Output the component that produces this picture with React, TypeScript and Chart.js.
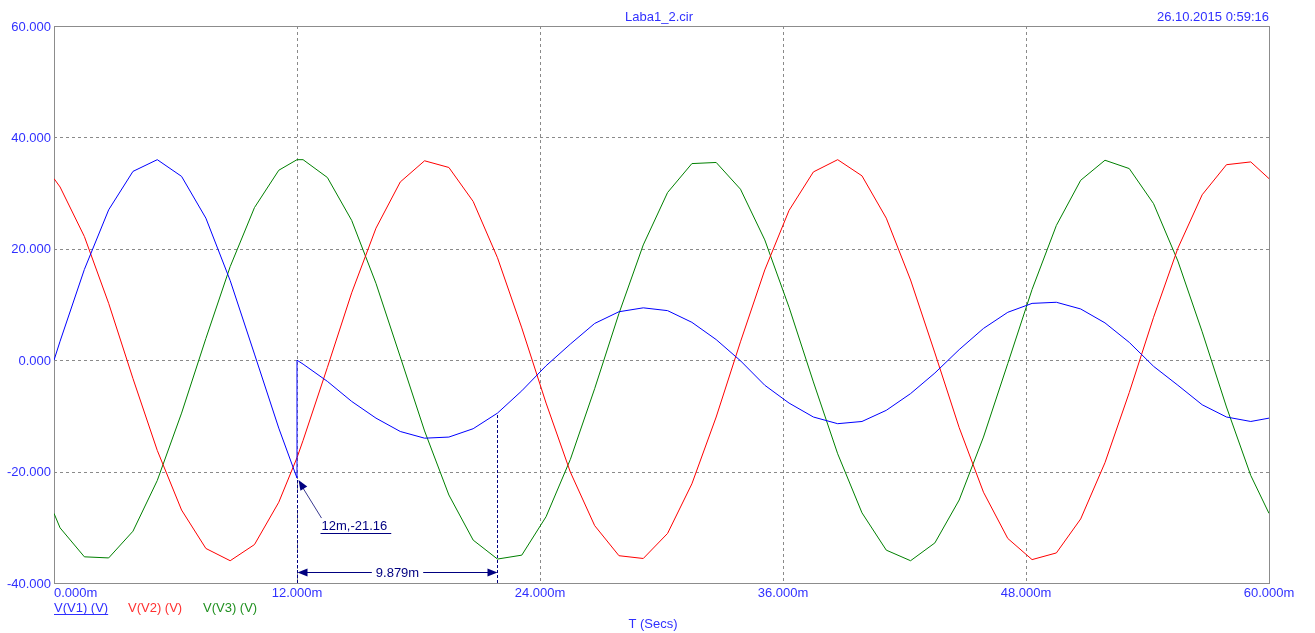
import React, { useEffect, useRef } from "react";
import { Chart, registerables } from "chart.js";

Chart.register(...registerables);

// Time axis in milliseconds (12.0 appears twice: switching instant)
const TIMES_MS = [
  0, 0.3, 1.5, 2.7, 3.9, 5.1, 6.3, 7.5, 8.7, 9.9, 11.1, 12.0, 12.0,
  12.3, 13.5, 14.7, 15.9, 17.1, 18.3, 19.5, 20.7, 21.9, 23.1, 24.3, 25.5,
  26.7, 27.9, 29.1, 30.3, 31.5, 32.7, 33.9, 35.1, 36.3, 37.5, 38.7, 39.9,
  41.1, 42.3, 43.5, 44.7, 45.9, 47.1, 48.3, 49.5, 50.7, 51.9, 53.1, 54.3,
  55.5, 56.7, 57.9, 59.1, 60.0,
];

const V1 = [
  0, 3.4, 16.3, 27.0, 33.9, 36.0, 33.0, 25.5, 14.3, 1.1, -12.2, -21.16, 0,
  -0.7, -3.8, -7.4, -10.4, -12.8, -14.0, -13.8, -12.3, -9.5, -5.5, -1.0, 2.9,
  6.6, 8.7, 9.4, 8.9, 6.8, 3.7, -0.1, -4.5, -7.7, -10.2, -11.4, -11.0,
  -9.0, -6.0, -2.3, 1.9, 5.7, 8.6, 10.2, 10.4, 9.2, 6.7, 3.2, -1.1,
  -4.5, -8.0, -10.2, -11.0, -10.4,
];

const V2 = [
  32.6, 31.1, 22.2, 10.2, -3.3, -16.2, -26.9, -33.8, -36.0, -33.1, -25.5, -17.5, -17.5,
  -14.4, -1.3, 12.1, 23.7, 32.0, 35.8, 34.6, 28.5, 18.4, 5.8, -7.7, -20.1,
  -29.7, -35.1, -35.6, -31.1, -22.2, -10.2, 3.3, 16.2, 26.9, 33.8, 36.0, 33.1,
  25.5, 14.4, 1.3, -12.1, -23.7, -32.0, -35.8, -34.6, -28.5, -18.4, -5.8, 7.7,
  20.1, 29.7, 35.1, 35.6, 32.6,
];

const V3 = [
  -27.5, -30.1, -35.3, -35.5, -30.7, -21.6, -9.5, 3.9, 16.8, 27.4, 34.1, 36.0, 36.0,
  36.0, 32.8, 25.1, 13.8, 0.6, -12.7, -24.2, -32.3, -35.7, -35.0, -28.1, -17.8,
  -5.1, 8.4, 20.7, 30.1, 35.3, 35.5, 30.7, 21.6, 9.5, -3.9, -16.8, -27.4,
  -34.1, -36.0, -32.8, -25.1, -13.8, -0.6, 12.7, 24.2, 32.3, 35.9, 34.4, 28.1,
  17.8, 5.1, -8.4, -20.7, -27.5,
];

const SERIES_NAMES = ["V(V1) (V)", "V(V2) (V)", "V(V3) (V)"];
const SERIES_COLORS = ["#0000ff", "#ff0000", "#008000"];

const X_TICKS = [0, 12, 24, 36, 48, 60];
const Y_TICKS = [60, 40, 20, 0, -20, -40];

const TITLE = "Laba1_2.cir";
const DATE_TEXT = "26.10.2015 0:59:16";
const X_TITLE = "T (Secs)";

const CURSOR_A = 12;
const CURSOR_A_VALUE = -21.16;
const CURSOR_B = 21.879;
const CURSOR_LABEL = "12m,-21.16";
const DELTA_LABEL = "9.879m";
const DELTA_LINE_Y = -38.1;

const TEXT_BLUE = "#3030ff";
const NAVY = "#000080";
const FONT = "Liberation Sans, Arial, sans-serif";

function toPoints(values: number[]) {
  return values.map((v, i) => ({ x: TIMES_MS[i], y: v }));
}

function interpBlue(t: number) {
  for (let i = 0; i < TIMES_MS.length - 1; i++) {
    const a = TIMES_MS[i];
    const b = TIMES_MS[i + 1];
    if (t >= a && t <= b && b > a) {
      return V1[i] + ((V1[i + 1] - V1[i]) * (t - a)) / (b - a);
    }
  }
  return 0;
}

function arrowHead(ctx: CanvasRenderingContext2D, tipX: number, tipY: number, angle: number, len: number, half: number) {
  ctx.save();
  ctx.translate(tipX, tipY);
  ctx.rotate(angle);
  ctx.beginPath();
  ctx.moveTo(0, 0);
  ctx.lineTo(-len, -half);
  ctx.lineTo(-len, half);
  ctx.closePath();
  ctx.fill();
  ctx.restore();
}

const decorPlugin = {
  id: "decor",
  beforeDraw(chart: any) {
    const ctx = chart.ctx;
    ctx.save();
    ctx.fillStyle = "#ffffff";
    ctx.fillRect(0, 0, chart.width, chart.height);
    ctx.restore();
  },
  beforeDatasetsDraw(chart: any) {
    const ctx = chart.ctx as CanvasRenderingContext2D;
    const { left, right, top, bottom } = chart.chartArea;
    const xs = chart.scales.x;
    const ys = chart.scales.y;
    ctx.save();
    ctx.strokeStyle = "#8a8a8a";
    ctx.lineWidth = 1;
    ctx.setLineDash([3, 3]);
    Y_TICKS.forEach((v) => {
      if (v === Y_TICKS[0] || v === Y_TICKS[Y_TICKS.length - 1]) return;
      const y = Math.round(ys.getPixelForValue(v)) + 0.5;
      ctx.beginPath();
      ctx.moveTo(left, y);
      ctx.lineTo(right, y);
      ctx.stroke();
    });
    X_TICKS.forEach((v) => {
      if (v === X_TICKS[0] || v === X_TICKS[X_TICKS.length - 1]) return;
      const x = Math.round(xs.getPixelForValue(v)) + 0.5;
      ctx.beginPath();
      ctx.moveTo(x, top);
      ctx.lineTo(x, bottom);
      ctx.stroke();
    });
    ctx.setLineDash([]);
    ctx.strokeStyle = "#8c8c8c";
    ctx.strokeRect(Math.round(left) + 0.5, Math.round(top) + 0.5, Math.round(right - left), Math.round(bottom - top));
    ctx.restore();
  },
  afterDatasetsDraw(chart: any) {
    const ctx = chart.ctx as CanvasRenderingContext2D;
    const { left, right, top, bottom } = chart.chartArea;
    const xs = chart.scales.x;
    const ys = chart.scales.y;
    ctx.save();

    // cursors
    const xa = Math.round(xs.getPixelForValue(CURSOR_A)) + 0.5;
    const ya = ys.getPixelForValue(CURSOR_A_VALUE);
    const xb = Math.round(xs.getPixelForValue(CURSOR_B)) + 0.5;
    const yb = ys.getPixelForValue(interpBlue(CURSOR_B));
    ctx.strokeStyle = NAVY;
    ctx.lineWidth = 1;
    ctx.setLineDash([3, 2]);
    ctx.beginPath();
    ctx.moveTo(xa, bottom);
    ctx.lineTo(xa, ya);
    ctx.moveTo(xb, bottom);
    ctx.lineTo(xb, yb);
    ctx.stroke();
    ctx.setLineDash([]);

    // dimension line
    const yd = Math.round(ys.getPixelForValue(DELTA_LINE_Y)) + 0.5;
    ctx.beginPath();
    ctx.moveTo(xa + 2, yd);
    ctx.lineTo(xb - 2, yd);
    ctx.stroke();
    ctx.fillStyle = NAVY;
    arrowHead(ctx, xa, yd, Math.PI, 10, 4);
    arrowHead(ctx, xb, yd, 0, 10, 4);
    ctx.font = `13px ${FONT}`;
    ctx.textAlign = "center";
    ctx.textBaseline = "middle";
    const mid = (xa + xb) / 2;
    const tw = ctx.measureText(DELTA_LABEL).width;
    ctx.fillStyle = "#ffffff";
    ctx.fillRect(mid - tw / 2 - 4, yd - 7, tw + 8, 14);
    ctx.fillStyle = NAVY;
    ctx.fillText(DELTA_LABEL, mid, yd + 1);

    // point label with arrow
    const lx = xa + 24;
    const ly = ya + 48;
    ctx.strokeStyle = "#3a3a90";
    ctx.beginPath();
    ctx.moveTo(lx, ly - 8);
    ctx.lineTo(xa + 3, ya + 6);
    ctx.stroke();
    ctx.fillStyle = NAVY;
    const ang = Math.atan2(ya + 2 - (ly - 8), xa - lx);
    arrowHead(ctx, xa + 1, ya + 2, ang, 10, 4);
    ctx.textAlign = "left";
    ctx.fillText(CURSOR_LABEL, lx, ly);
    const lw = ctx.measureText(CURSOR_LABEL).width;
    ctx.strokeStyle = NAVY;
    ctx.beginPath();
    ctx.moveTo(lx - 1, Math.round(ly + 7) + 0.5);
    ctx.lineTo(lx + lw + 4, Math.round(ly + 7) + 0.5);
    ctx.stroke();

    // axis tick labels
    ctx.fillStyle = TEXT_BLUE;
    ctx.font = `13px ${FONT}`;
    ctx.textAlign = "right";
    ctx.textBaseline = "middle";
    Y_TICKS.forEach((v) => {
      ctx.fillText(v.toFixed(3), left - 3, ys.getPixelForValue(v) + 1);
    });
    ctx.textBaseline = "middle";
    X_TICKS.forEach((v, i) => {
      ctx.textAlign = i === 0 ? "left" : "center";
      ctx.fillText(v.toFixed(3) + "m", xs.getPixelForValue(v), bottom + 10);
    });

    // titles
    ctx.textAlign = "center";
    ctx.fillText(TITLE, 659, top - 9);
    ctx.textAlign = "right";
    ctx.fillText(DATE_TEXT, right, top - 9);
    ctx.textAlign = "center";
    ctx.fillText(X_TITLE, 653, bottom + 41);

    // legend
    const legendX = [left, left + 74, left + 149];
    ctx.textAlign = "left";
    SERIES_NAMES.forEach((name, i) => {
      ctx.fillStyle = SERIES_COLORS[i] === "#0000ff" ? TEXT_BLUE : SERIES_COLORS[i] === "#ff0000" ? "#ff3030" : "#209020";
      ctx.fillText(name, legendX[i], bottom + 25);
      if (i === 0) {
        const w = ctx.measureText(name).width;
        ctx.strokeStyle = TEXT_BLUE;
        ctx.beginPath();
        ctx.moveTo(legendX[i], bottom + 31.5);
        ctx.lineTo(legendX[i] + w, bottom + 31.5);
        ctx.stroke();
      }
    });

    ctx.restore();
  },
};

export default function App() {
  const canvasRef = useRef<HTMLCanvasElement | null>(null);

  useEffect(() => {
    const canvas = canvasRef.current;
    if (!canvas) return;
    const chart = new Chart(canvas, {
      type: "line",
      data: {
        datasets: [V1, V2, V3].map((vals, i) => ({
          label: SERIES_NAMES[i],
          data: toPoints(vals),
          borderColor: SERIES_COLORS[i],
          backgroundColor: SERIES_COLORS[i],
          borderWidth: 1,
          pointRadius: 0,
          tension: 0,
          fill: false,
        })),
      },
      options: {
        responsive: false,
        animation: false,
        events: [],
        layout: { padding: { left: 54, top: 26, right: 46, bottom: 50 } },
        plugins: {
          legend: { display: false },
          title: { display: false },
          tooltip: { enabled: false },
        },
        scales: {
          x: { type: "linear", min: 0, max: 60, display: false },
          y: { type: "linear", min: -40, max: 60, display: false },
        },
      },
      plugins: [decorPlugin],
    });
    return () => chart.destroy();
  }, []);

  return (
    <div style={{ position: "fixed", left: 0, top: 0, width: 1315, height: 633, background: "#fff" }}>
      <canvas ref={canvasRef} width={1315} height={633} style={{ width: 1315, height: 633, display: "block" }} />
    </div>
  );
}
